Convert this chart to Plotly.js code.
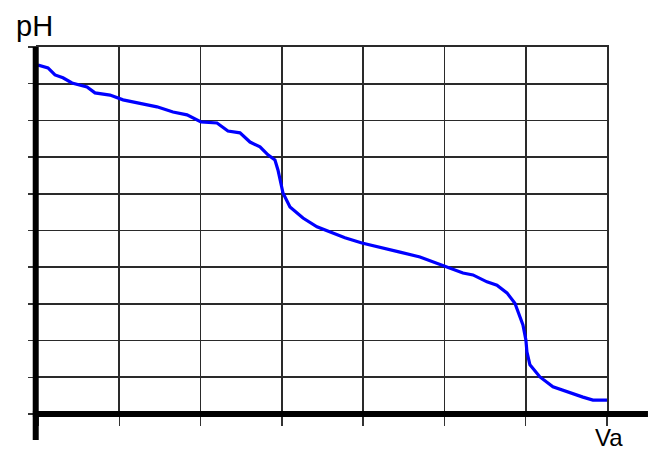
<!DOCTYPE html>
<html>
<head>
<meta charset="utf-8">
<script src="https://cdn.plot.ly/plotly-3.0.1.min.js"></script>
<style>html,body{margin:0;padding:0;background:#fff;}#chart{width:656px;height:452px;}</style>
</head>
<body>
<div id="chart"></div>
<script>
const va = [0, 0.123, 0.209, 0.307, 0.418, 0.603, 0.701, 0.886, 1.046, 1.255, 1.464, 1.661, 1.833, 2.005, 2.202, 2.337, 2.485, 2.608, 2.731, 2.829, 2.915, 2.952, 2.977, 3.014, 3.100, 3.260, 3.432, 3.555, 3.776, 3.985, 4.207, 4.453, 4.699, 4.859, 5.006, 5.228, 5.351, 5.523, 5.646, 5.769, 5.867, 5.929, 5.966, 6.002, 6.015, 6.052, 6.175, 6.335, 6.507, 6.704, 6.827, 7.0];
const ph = [9.51, 9.43, 9.24, 9.16, 9.02, 8.91, 8.75, 8.69, 8.56, 8.47, 8.37, 8.23, 8.15, 7.96, 7.93, 7.71, 7.66, 7.41, 7.28, 7.06, 6.92, 6.65, 6.43, 6.02, 5.64, 5.34, 5.10, 4.99, 4.80, 4.66, 4.55, 4.41, 4.28, 4.14, 4.03, 3.84, 3.79, 3.60, 3.51, 3.30, 3.02, 2.64, 2.43, 2.02, 1.69, 1.34, 1.01, 0.74, 0.60, 0.46, 0.38, 0.38];
const yTitle = "pH";
const xTitle = "Va";

const trace = {
  x: va, y: ph, type: 'scatter', mode: 'lines',
  line: {color: '#0000ff', width: 3.2, shape: 'linear'},
  hoverinfo: 'skip'
};

const layout = {
  width: 656, height: 452,
  margin: {l: 38, r: 49, t: 47, b: 38, pad: 0},
  paper_bgcolor: '#ffffff', plot_bgcolor: '#ffffff',
  showlegend: false,
  font: {family: 'Liberation Sans, Arial, sans-serif', color: '#000'},
  xaxis: {
    range: [0, 7], dtick: 1, tick0: 0, showgrid: true, gridcolor: '#2a2a2a', gridwidth: 1.6,
    showticklabels: false, ticks: 'outside', ticklen: 10, tickwidth: 1.5, tickcolor: '#333333',
    zeroline: false, showline: true, mirror: true, linecolor: '#2a2a2a', linewidth: 1.6,
    fixedrange: true
  },
  yaxis: {
    range: [0, 10], dtick: 1, tick0: 0, showgrid: true, gridcolor: '#2a2a2a', gridwidth: 1.6,
    showticklabels: false, ticks: 'outside', ticklen: 8, tickwidth: 1.5, tickcolor: '#333333',
    zeroline: false, showline: true, mirror: true, linecolor: '#2a2a2a', linewidth: 1.6,
    fixedrange: true
  },
  shapes: [
    {type: 'line', xref: 'paper', yref: 'paper', x0: -0.009, x1: 1.072, y0: 0, y1: 0,
     line: {color: '#000', width: 6}},
    {type: 'line', xref: 'paper', yref: 'paper', x0: -0.004, x1: -0.004, y0: 1.0, y1: -0.071,
     line: {color: '#000', width: 6}}
  ],
  annotations: [
    {text: yTitle, xref: 'paper', yref: 'paper', x: -0.006, y: 1.058, xanchor: 'center', yanchor: 'middle',
     showarrow: false, borderpad: 0, font: {size: 29, color: '#000', family: 'Liberation Sans, Arial, sans-serif'}},
    {text: xTitle, xref: 'paper', yref: 'paper', x: 1.0035, y: -0.063, xanchor: 'center', yanchor: 'middle',
     showarrow: false, borderpad: 0, font: {size: 24, color: '#000', family: 'Liberation Sans, Arial, sans-serif'}}
  ]
};

Plotly.newPlot('chart', [trace], layout, {displayModeBar: false, staticPlot: true});
</script>
</body>
</html>
